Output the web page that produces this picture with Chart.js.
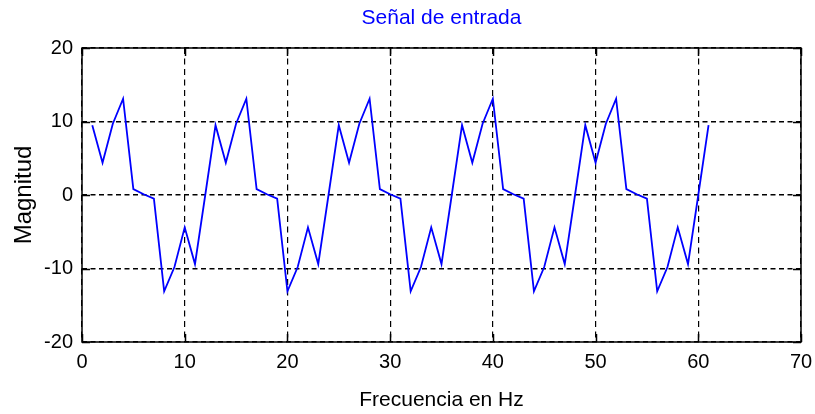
<!DOCTYPE html>
<html>
<head>
<meta charset="utf-8">
<title>Señal de entrada</title>
<script src="https://cdn.jsdelivr.net/npm/chart.js@4.4.1/dist/chart.umd.min.js"></script>
<style>
  html, body { margin: 0; padding: 0; background: #ffffff; }
  canvas { display: block; }
</style>
</head>
<body>
<canvas id="chart" width="815" height="414"></canvas>
<script>
// Sample index (Hz) of each point of the input signal
const frecuencia = [
  1, 2, 3, 4, 5, 6, 7, 8, 9, 10, 11, 12,
  13, 14, 15, 16, 17, 18, 19, 20, 21, 22, 23, 24,
  25, 26, 27, 28, 29, 30, 31, 32, 33, 34, 35, 36,
  37, 38, 39, 40, 41, 42, 43, 44, 45, 46, 47, 48,
  49, 50, 51, 52, 53, 54, 55, 56, 57, 58, 59, 60,
  61
];

// Magnitude of the input signal at each sample
const magnitud = [
  9.5, 4.4, 9.7, 13.1, 0.8, 0.1, -0.5, -13.1, -9.8, -4.4, -9.4, 0.0,
  9.5, 4.4, 9.7, 13.1, 0.8, 0.1, -0.5, -13.1, -9.8, -4.4, -9.4, 0.0,
  9.5, 4.4, 9.7, 13.1, 0.8, 0.1, -0.5, -13.1, -9.8, -4.4, -9.4, 0.0,
  9.5, 4.4, 9.7, 13.1, 0.8, 0.1, -0.5, -13.1, -9.8, -4.4, -9.4, 0.0,
  9.5, 4.4, 9.7, 13.1, 0.8, 0.1, -0.5, -13.1, -9.8, -4.4, -9.4, 0.0,
  9.5
];

// Axis ranges and tick spacing
const xRange = [0, 70];
const yRange = [-20, 20];
const xStep = 10;
const yStep = 10;

const titulo = 'Señal de entrada';
const tituloX = 'Frecuencia en Hz';
const tituloY = 'Magnitud';

const fuente = "'Liberation Sans', Arial, Helvetica, sans-serif";

// Closed axes box with inward tick marks on all four sides
const axesBox = {
  id: 'axesBox',
  afterDatasetsDraw(chart) {
    const { ctx, chartArea: a, scales: { x, y } } = chart;
    const len = 8;
    ctx.save();
    ctx.strokeStyle = '#000000';
    ctx.lineWidth = 1.5;
    ctx.setLineDash([]);
    ctx.beginPath();
    x.ticks.forEach(t => {
      const px = Math.round(x.getPixelForValue(t.value)) + 0.5;
      ctx.moveTo(px, a.bottom); ctx.lineTo(px, a.bottom - len);
      ctx.moveTo(px, a.top); ctx.lineTo(px, a.top + len);
    });
    y.ticks.forEach(t => {
      const py = Math.round(y.getPixelForValue(t.value)) + 0.5;
      ctx.moveTo(a.left, py); ctx.lineTo(a.left + len, py);
      ctx.moveTo(a.right, py); ctx.lineTo(a.right - len, py);
    });
    ctx.stroke();
    ctx.strokeRect(a.left, a.top, a.right - a.left, a.bottom - a.top);
    ctx.restore();
  }
};

new Chart(document.getElementById('chart'), {
  type: 'line',
  data: {
    datasets: [{
      data: frecuencia.map((f, i) => ({ x: f, y: magnitud[i] })),
      borderColor: '#0000ff',
      borderWidth: 1.8,
      pointRadius: 0,
      tension: 0,
      fill: false
    }]
  },
  plugins: [axesBox],
  options: {
    responsive: false,
    animation: false,
    devicePixelRatio: 1,
    layout: { padding: 0 },
    plugins: {
      legend: { display: false },
      tooltip: { enabled: false },
      title: {
        display: true,
        fullSize: false,
        text: titulo,
        color: '#0000ff',
        font: { family: fuente, size: 21, weight: 'normal', lineHeight: 1.2 },
        padding: { top: 6, bottom: 16.8 }
      }
    },
    scales: {
      x: {
        type: 'linear',
        min: xRange[0],
        max: xRange[1],
        afterFit(scale) {
          scale.height = 72;
          scale.paddingLeft = 0;
          scale.paddingRight = 14;
        },
        ticks: {
          stepSize: xStep,
          color: '#000000',
          padding: 8,
          maxRotation: 0,
          font: { family: fuente, size: 20 }
        },
        grid: { color: '#000000', lineWidth: 1.2, drawTicks: false },
        border: { display: false, dash: [6, 4.5] },
        title: {
          display: true,
          text: tituloX,
          color: '#000000',
          font: { family: fuente, size: 21 },
          padding: { top: 0, bottom: 1 }
        }
      },
      y: {
        type: 'linear',
        min: yRange[0],
        max: yRange[1],
        afterFit(scale) { scale.width = 82; },
        ticks: {
          stepSize: yStep,
          color: '#000000',
          padding: 9,
          font: { family: fuente, size: 20 }
        },
        grid: { color: '#000000', lineWidth: 1.5, drawTicks: false },
        border: { display: false, dash: [5, 3.5] },
        title: {
          display: true,
          text: tituloY,
          color: '#000000',
          font: { family: fuente, size: 24 },
          padding: { top: 10, bottom: 10 }
        }
      }
    }
  }
});
</script>
</body>
</html>
